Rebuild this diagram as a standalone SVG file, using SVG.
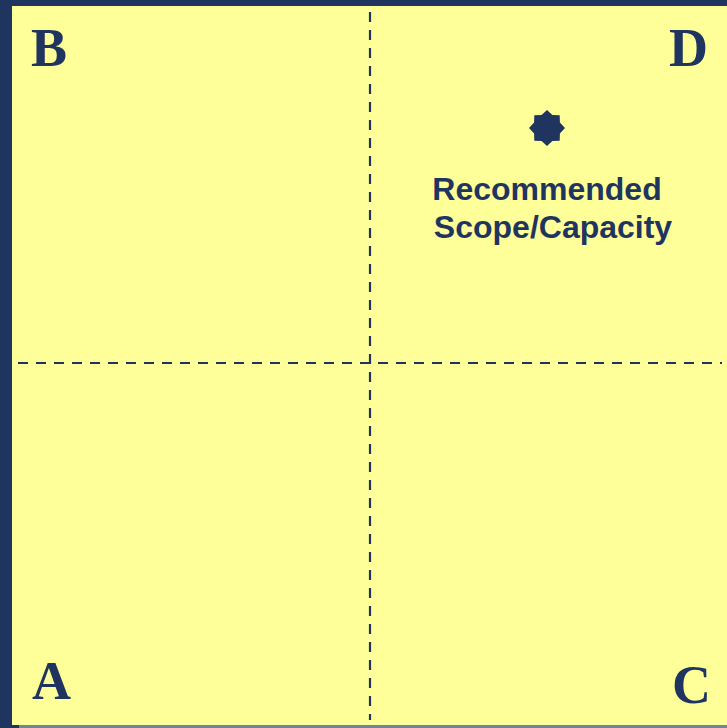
<svg xmlns="http://www.w3.org/2000/svg" width="727" height="728" viewBox="0 0 727 728">
<style>
.q{font-family:"Liberation Serif","Times New Roman",serif;font-weight:bold;font-size:54px;fill:#1F3560}
.lbl{font-family:"Liberation Sans",Arial,sans-serif;font-weight:bold;font-size:32px;fill:#1F3560;text-anchor:middle}
.dash{stroke:#1F3560;stroke-width:2.2;stroke-dasharray:10 8;fill:none}
</style>
<rect x="0" y="0" width="727" height="728" fill="#1F3560"/>
<rect x="19" y="725" width="708" height="3" fill="#6F8599"/>
<rect x="12" y="6" width="715" height="719" fill="#FFFF99"/>
<g id="connectors">
<line class="dash" x1="370" y1="12" x2="370" y2="720"/>
<line class="dash" x1="18" y1="363" x2="722" y2="363"/>
</g>
<g id="label-B"><text class="q" x="31" y="66">B</text></g>
<g id="label-D"><text class="q" x="669" y="66">D</text></g>
<g id="label-A"><text class="q" x="32" y="699">A</text></g>
<g id="label-C"><text class="q" x="672" y="703">C</text></g>
<g id="recommended">
<polygon fill="#1F3560" points="547,110 552.4,115.1 559.7,115.3 559.9,122.6 565,128 559.9,133.4 559.7,140.7 552.4,140.9 547,146 541.6,140.9 534.3,140.7 534.1,133.4 529,128 534.1,122.6 534.3,115.3 541.6,115.1"/>
<text class="lbl" x="547" y="200">Recommended</text>
<text class="lbl" x="553" y="238">Scope/Capacity</text>
</g>
</svg>
